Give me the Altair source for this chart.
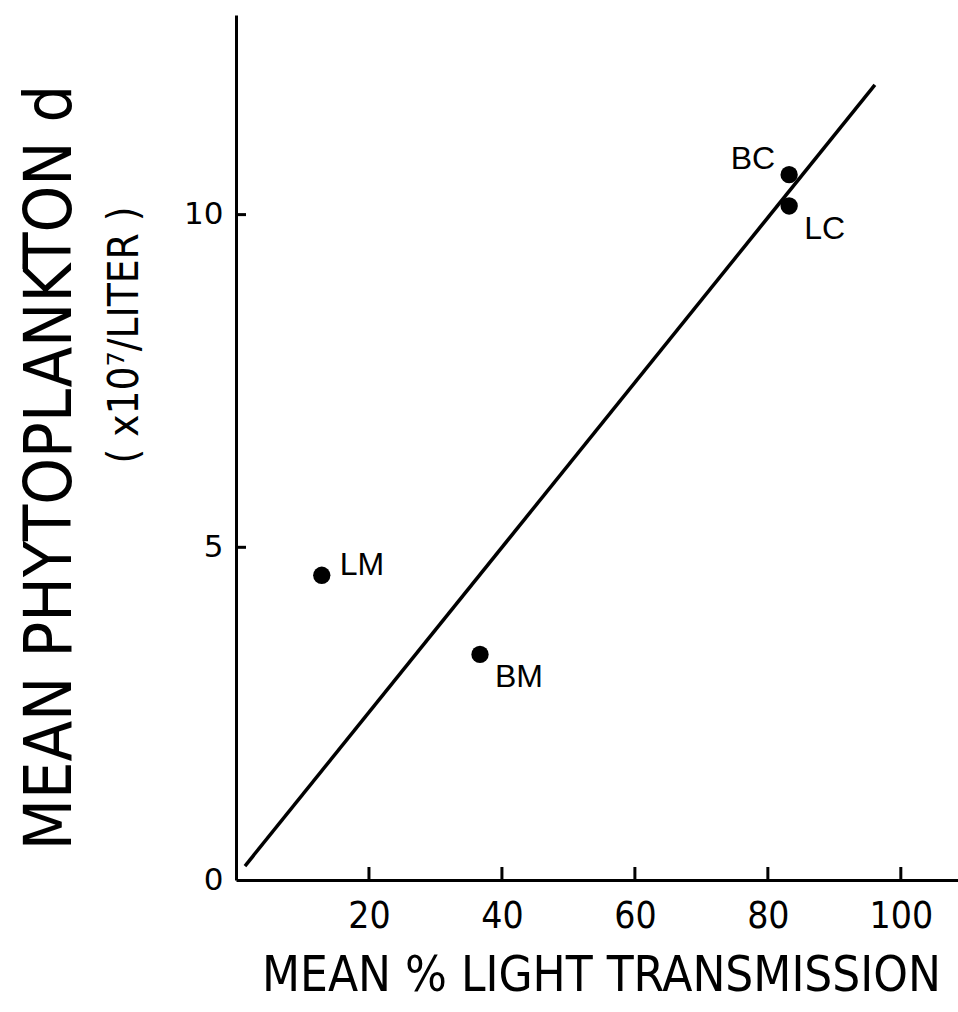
import altair as alt
import pandas as pd

# Lake sites: mean light transmission (%) vs mean phytoplankton (x10^7 / liter)
sites = ["LM", "BM", "BC", "LC"]
light = [12.9, 36.7, 83.2, 83.2]
phyto = [4.58, 3.39, 10.6, 10.13]

# Fitted line endpoints
fit_x = [1.35, 96.1]
fit_y = [0.21, 11.95]

x_ticks = [20, 40, 60, 80, 100]
y_ticks = [0, 5, 10]
y_inner_ticks = [5, 10]

pts = pd.DataFrame({"site": sites, "light": light, "phyto": phyto})
fit = pd.DataFrame({"light": fit_x, "phyto": fit_y})
xt = pd.DataFrame({"v": x_ticks})
yt = pd.DataFrame({"v": y_inner_ticks})

W, H = 722, 865
narrow = "DejaVu Sans Condensed, Liberation Sans Narrow, sans-serif"

xscale = alt.Scale(domain=[0, 108.6], nice=False, zero=False)
yscale = alt.Scale(domain=[0, 13.0], nice=False, zero=False)

x_enc = alt.X(
    "light:Q",
    scale=xscale,
    axis=alt.Axis(
        values=x_ticks, ticks=False, grid=False, domainWidth=3, domainColor="black",
        labelFont=narrow, labelFontSize=37, labelColor="black", labelPadding=18,
        title="MEAN % LIGHT TRANSMISSION", titleFont=narrow, titleFontSize=49,
        titleFontWeight="normal", titleColor="black", titleX=365, titleY=95,
        titleBaseline="middle", titleAlign="center",
    ),
)
y_enc = alt.Y(
    "phyto:Q",
    scale=yscale,
    axis=alt.Axis(
        values=y_ticks, format="d", ticks=False, grid=False, domainWidth=3,
        domainColor="black", labelFont="DejaVu Sans", labelFontSize=31,
        labelColor="black", labelPadding=13,
        title="MEAN PHYTOPLANKTON   d", titleFont=narrow, titleFontSize=66,
        titleFontWeight="normal", titleColor="black", titleAngle=270,
        titleX=-186, titleY=452, titleBaseline="middle", titleAlign="center",
    ),
)

line = alt.Chart(fit).mark_line(color="black", strokeWidth=3.5).encode(x=x_enc, y=y_enc)

dots = alt.Chart(pts).mark_circle(color="black", opacity=1, size=300).encode(
    x=alt.X("light:Q", scale=xscale), y=alt.Y("phyto:Q", scale=yscale)
)

def labels(names, align, dx, dy):
    return alt.Chart(pts).transform_filter(
        alt.FieldOneOfPredicate(field="site", oneOf=names)
    ).mark_text(
        font="Liberation Sans", fontSize=32, color="black",
        align=align, baseline="middle", dx=dx, dy=dy,
    ).encode(
        x=alt.X("light:Q", scale=xscale), y=alt.Y("phyto:Q", scale=yscale), text="site:N"
    )

lab_lm = labels(["LM"], "left", 18, -10)
lab_low = labels(["BM", "LC"], "left", 15, 23)
lab_bc = labels(["BC"], "right", -14, -16)

# inward tick marks
xticks = alt.Chart(xt).mark_rule(color="black", strokeWidth=3).encode(
    x=alt.X("v:Q", scale=xscale), y=alt.value(H), y2=alt.value(H - 13)
)
yticks = alt.Chart(yt).mark_rule(color="black", strokeWidth=3).encode(
    y=alt.Y("v:Q", scale=yscale), x=alt.value(0), x2=alt.value(10)
)

unit_title = alt.Chart(pd.DataFrame({"t": ["( x10⁷/LITER )"]})).mark_text(
    font=narrow, fontSize=42, color="black", angle=270,
    align="center", baseline="middle",
).encode(x=alt.value(-111), y=alt.value(320), text="t:N")

chart = alt.layer(line, dots, lab_lm, lab_low, lab_bc, xticks, yticks, unit_title).properties(
    width=W, height=H,
    autosize=alt.AutoSizeParams(type="none"),
    padding={"left": 236, "top": 15, "right": 0, "bottom": 132},
    background="white",
).configure_view(stroke=None)

chart.save("out.html", embed_options={"renderer": "svg", "actions": False})
